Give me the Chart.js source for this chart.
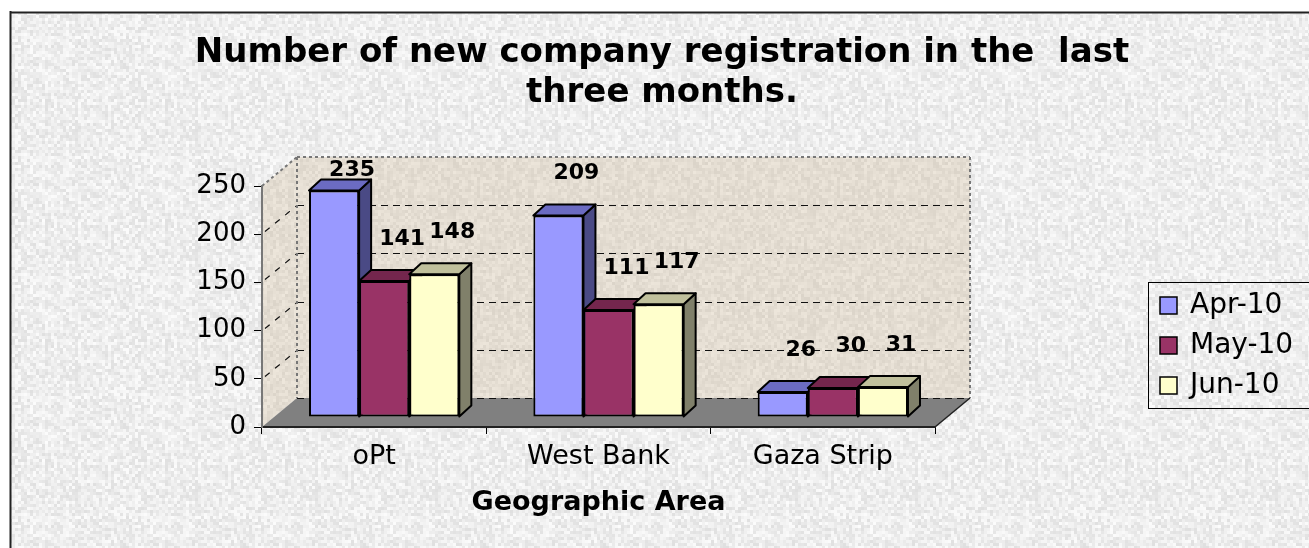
<!DOCTYPE html>
<html>
<head>
<meta charset="utf-8">
<title>New company registrations</title>
<script src="https://cdn.jsdelivr.net/npm/chart.js@4.4.1/dist/chart.umd.min.js"></script>
<style>
  html, body { margin: 0; padding: 0; background: #fff; }
  #wrap { width: 1309px; height: 548px; position: relative; }
</style>
</head>
<body>
<div id="wrap"><canvas id="regChart"></canvas></div>
<script>
// Data
const areas = ["oPt", "West Bank", "Gaza Strip"];
const months = ["Apr-10", "May-10", "Jun-10"];
const apr10 = [235, 209, 26];
const may10 = [141, 111, 30];
const jun10 = [148, 117, 31];
const yTicks = [0, 50, 100, 150, 200, 250];
const titleLines = ["Number of new company registration in the  last", "three months."];
const xTitle = "Geographic Area";

const FONT = "'DejaVu Sans', sans-serif";

// front / top / side face colours for each month
const faceColors = [
  { front: "#9999FF", top: "#6B6BC2", side: "#4A4A85" },
  { front: "#993366", top: "#74264D", side: "#4D1933" },
  { front: "#FFFFCC", top: "#C0C09C", side: "#80806A" },
];
const wallDepth = { x: 35, y: -29 };
const barShift = { x: 10, y: -10 };
const barDepth = { x: 12, y: -11 };

// speckled paper texture (hash based so it is the same every time)
function makeTexture(ctx, r, g, b, spread, bias) {
  const size = 120;
  const c = document.createElement("canvas");
  c.width = size;
  c.height = size;
  const t = c.getContext("2d");
  const img = t.createImageData(size, size);
  for (let y = 0; y < size; y++) {
    for (let x = 0; x < size; x++) {
      const cx = Math.floor(x / 3), cy = Math.floor(y / 3);
      let h = Math.imul(cx, 374761393) + Math.imul(cy, 668265263) + r;
      h = Math.imul(h ^ (h >>> 13), 1274126177);
      h = (h ^ (h >>> 16)) >>> 0;
      const n = (h % 1000) / 1000;
      const d = Math.round((n - bias) * spread);
      const i = (y * size + x) * 4;
      img.data[i] = r + d;
      img.data[i + 1] = g + d;
      img.data[i + 2] = b + d;
      img.data[i + 3] = 255;
    }
  }
  t.putImageData(img, 0, 0);
  return ctx.createPattern(c, "repeat");
}

function poly(ctx, pts, fill, stroke, lw) {
  ctx.beginPath();
  ctx.moveTo(pts[0][0], pts[0][1]);
  for (let i = 1; i < pts.length; i++) ctx.lineTo(pts[i][0], pts[i][1]);
  ctx.closePath();
  if (fill) { ctx.fillStyle = fill; ctx.fill(); }
  if (stroke) { ctx.strokeStyle = stroke; ctx.lineWidth = lw || 1; ctx.stroke(); }
}

function line(ctx, x1, y1, x2, y2, color, lw, dash) {
  ctx.beginPath();
  ctx.setLineDash(dash || []);
  ctx.strokeStyle = color;
  ctx.lineWidth = lw;
  ctx.moveTo(x1, y1);
  ctx.lineTo(x2, y2);
  ctx.stroke();
  ctx.setLineDash([]);
}

let paperFill, wallFill;

// background, frame, walls, floor and gridlines
const backdrop = {
  id: "backdrop",
  beforeDraw(chart) {
    const { ctx, chartArea: a, scales } = chart;
    if (!paperFill) {
      paperFill = makeTexture(ctx, 239, 239, 239, 28, 0.55);
      wallFill = makeTexture(ctx, 228, 221, 210, 18, 0.5);
    }
    ctx.save();
    ctx.fillStyle = "#fff";
    ctx.fillRect(0, 0, chart.width, chart.height);
    ctx.fillStyle = paperFill;
    ctx.fillRect(10, 12, chart.width, chart.height);
    line(ctx, 10.5, 11, 10.5, chart.height, "#222", 2);
    line(ctx, 10, 12.5, chart.width, 12.5, "#222", 2);

    const dx = wallDepth.x, dy = wallDepth.y;
    // back wall and side wall
    poly(ctx, [[a.left + dx, a.top + dy], [a.right + dx, a.top + dy], [a.right + dx, a.bottom + dy], [a.left + dx, a.bottom + dy]], wallFill);
    poly(ctx, [[a.left, a.top], [a.left + dx, a.top + dy], [a.left + dx, a.bottom + dy], [a.left, a.bottom]], wallFill);
    // floor
    poly(ctx, [[a.left, a.bottom], [a.right, a.bottom], [a.right + dx, a.bottom + dy], [a.left + dx, a.bottom + dy]], "#808080");
    line(ctx, a.right, a.bottom, a.right + dx, a.bottom + dy, "#222", 1.5);

    // gridlines on the back wall and side wall
    const y = scales.y;
    yTicks.forEach((v) => {
      const py = Math.round(y.getPixelForValue(v)) + 0.5;
      if (v < 250) {
        line(ctx, a.left + dx, py + dy, a.right + dx, py + dy, "#111", 1.2, [7, 5]);
      }
      if (v > 0 && v < 250) {
        line(ctx, a.left + 3, py - 3, a.left + dx, py + dy, "#111", 1.2, [6, 7]);
      }
    });
    // wall outlines
    line(ctx, a.left + dx, a.top + dy, a.right + dx, a.top + dy, "#777", 2, [3, 3]);
    line(ctx, a.right + dx, a.top + dy, a.right + dx, a.bottom + dy, "#777", 2, [3, 3]);
    line(ctx, a.left + dx, a.top + dy, a.left + dx, a.bottom + dy, "#777", 2, [3, 3]);
    line(ctx, a.left, a.top, a.left + dx, a.top + dy, "#777", 2, [3, 3]);
    ctx.restore();
  },
};

// bars sit a little behind the front plane; draw them in series order
// so each front face hides the side face of the bar to its left
const bars3d = {
  id: "bars3d",
  beforeDatasetsDraw(chart) {
    const { ctx, chartArea: a } = chart;
    ctx.save();
    ctx.translate(barShift.x, barShift.y);
    chart.data.datasets.forEach((ds, i) => {
      const col = faceColors[i];
      chart.getDatasetMeta(i).data.forEach((bar) => {
        bar.draw(ctx);
        const l = bar.x - bar.width / 2, r = bar.x + bar.width / 2;
        const t = bar.y, b = bar.base;
        const dx = barDepth.x, dy = barDepth.y;
        ctx.lineJoin = "round";
        poly(ctx, [[r, t], [r + dx, t + dy], [r + dx, b + dy], [r, b]], col.side, "#000", 2);
        poly(ctx, [[l, t], [l + dx, t + dy], [r + dx, t + dy], [r, t]], col.top, "#000", 2);
      });
    });
    ctx.restore();

    // value labels
    ctx.save();
    ctx.fillStyle = "#000";
    ctx.font = "bold 22px " + FONT;
    ctx.textAlign = "center";
    ctx.textBaseline = "middle";
    chart.data.datasets.forEach((ds, i) => {
      chart.getDatasetMeta(i).data.forEach((bar, j) => {
        const lx = bar.x + barShift.x + 18;
        const ly = Math.max(bar.y + barShift.y - 42, a.top - 16);
        ctx.fillText(String(ds.data[j]), lx, ly);
      });
    });
    ctx.restore();
    return false;
  },
};

// title and legend box
const annotations = {
  id: "annotations",
  afterDraw(chart) {
    const { ctx } = chart;
    ctx.save();
    ctx.fillStyle = "#000";
    ctx.textAlign = "center";
    ctx.textBaseline = "middle";
    ctx.font = "bold 34px " + FONT;
    titleLines.forEach((txt, i) => ctx.fillText(txt, 662, 53 + i * 40));

    // legend
    const lx = 1148, ly = 282;
    ctx.fillStyle = paperFill;
    ctx.fillRect(lx, ly, chart.width - lx + 5, 126);
    ctx.strokeStyle = "#000";
    ctx.lineWidth = 1;
    ctx.strokeRect(lx + 0.5, ly + 0.5, chart.width - lx + 5, 126);
    ctx.font = "28px " + FONT;
    ctx.textAlign = "left";
    chart.data.datasets.forEach((ds, i) => {
      const cy = ly + 23 + i * 40;
      ctx.fillStyle = ds.backgroundColor;
      ctx.fillRect(lx + 12, cy - 8, 17, 17);
      ctx.lineWidth = 1.5;
      ctx.strokeRect(lx + 12, cy - 8, 17, 17);
      ctx.fillStyle = "#000";
      ctx.fillText(ds.label, lx + 42, cy + 1);
    });
    ctx.restore();
  },
};

const ctx = document.getElementById("regChart").getContext("2d");
new Chart(ctx, {
  type: "bar",
  data: {
    labels: areas,
    datasets: [apr10, may10, jun10].map((vals, i) => ({
      label: months[i],
      data: vals,
      backgroundColor: faceColors[i].front,
      borderColor: "#000",
      borderWidth: 2,
      borderSkipped: false,
      categoryPercentage: 0.67,
      barPercentage: 1.0,
      clip: false,
    })),
  },
  options: {
    responsive: true,
    maintainAspectRatio: false,
    animation: false,
    layout: { padding: { left: 0, top: 186, right: 374, bottom: 0 } },
    plugins: {
      legend: { display: false },
      title: { display: false },
      tooltip: { enabled: false },
    },
    scales: {
      x: {
        grid: { drawOnChartArea: false, tickLength: 7, color: "#000", offset: true },
        border: { color: "#222", width: 2 },
        ticks: { color: "#000", font: { family: FONT, size: 27 }, padding: 7 },
        title: {
          display: true,
          text: xTitle,
          color: "#000",
          font: { family: FONT, size: 27, weight: "bold" },
          padding: { top: 0, bottom: 29 },
        },
        afterFit: (s) => { s.height = 121; },
      },
      y: {
        min: 0,
        max: 250,
        afterBuildTicks: (s) => { s.ticks = yTicks.map((v) => ({ value: v })); },
        grid: { drawOnChartArea: false, tickLength: 8, color: "#000" },
        border: { color: "#777", width: 2, dash: [3, 3] },
        ticks: { color: "#000", font: { family: FONT, size: 26 }, padding: 8 },
        afterFit: (s) => { s.width = 262; },
      },
    },
  },
  plugins: [backdrop, bars3d, annotations],
});
</script>
</body>
</html>
